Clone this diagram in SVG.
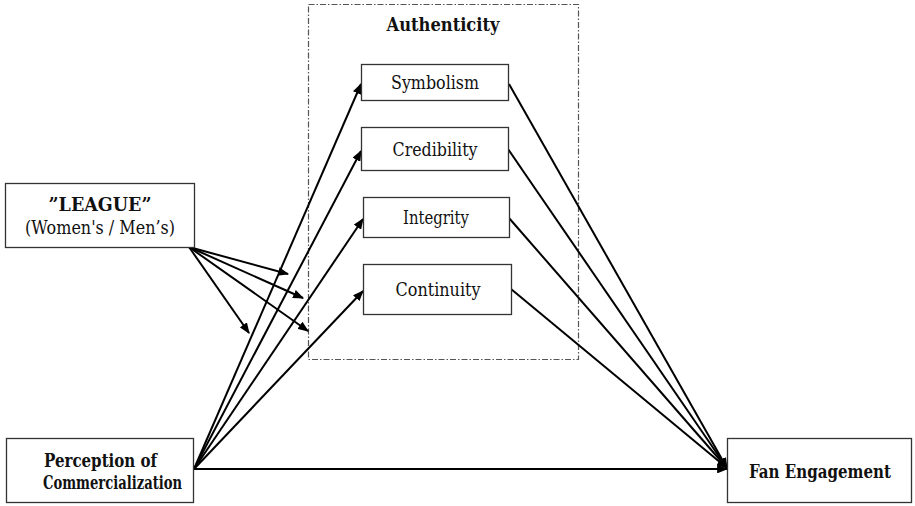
<svg xmlns="http://www.w3.org/2000/svg" width="915" height="506" viewBox="0 0 915 506">
  <style>
    .box { fill: #ffffff; stroke: #333333; stroke-width: 1.3; }
    .grp { fill: none; stroke: #555555; stroke-width: 1.2; stroke-dasharray: 6 2 1.5 2; }
    .edge { fill: none; stroke: #000000; stroke-width: 2; }
    text { font-family: "DejaVu Serif", serif; font-size: 18px; fill: #111111; text-anchor: middle; }
    .b { font-weight: bold; }
  </style>
  <defs>
    <marker id="arrow" viewBox="0 0 10 8" markerWidth="5.5" markerHeight="4.4" refX="9" refY="4" orient="auto">
      <path d="M0,0 L10,4 L0,8 Z" fill="#000000"/>
    </marker>
  </defs>

  <rect width="915" height="506" fill="#ffffff"/>

  <!-- Authenticity grouping -->
  <g id="authenticity">
    <rect class="grp" x="308.5" y="4.5" width="270" height="355"/>
    <text class="b" x="443" y="31" textLength="113" lengthAdjust="spacingAndGlyphs">Authenticity</text>
  </g>

  <!-- connectors -->
  <g id="connectors">
    <!-- league moderation arrows -->
    <line class="edge" x1="189" y1="247" x2="288" y2="274" marker-end="url(#arrow)"/>
    <line class="edge" x1="189" y1="247" x2="303" y2="298" marker-end="url(#arrow)"/>
    <line class="edge" x1="189" y1="247" x2="308" y2="331" marker-end="url(#arrow)"/>
    <line class="edge" x1="189" y1="247" x2="249" y2="333" marker-end="url(#arrow)"/>
    <!-- commercialization to authenticity dimensions -->
    <line class="edge" x1="194" y1="469" x2="361" y2="84" marker-end="url(#arrow)"/>
    <line class="edge" x1="194" y1="469" x2="361" y2="151" marker-end="url(#arrow)"/>
    <line class="edge" x1="194" y1="469" x2="363" y2="219" marker-end="url(#arrow)"/>
    <line class="edge" x1="194" y1="469" x2="363" y2="291" marker-end="url(#arrow)"/>
    <!-- direct effect -->
    <line class="edge" x1="194" y1="469" x2="727" y2="469" marker-end="url(#arrow)"/>
    <!-- authenticity dimensions to fan engagement -->
    <line class="edge" x1="509" y1="84" x2="727" y2="468" marker-end="url(#arrow)"/>
    <line class="edge" x1="508" y1="149" x2="727" y2="468" marker-end="url(#arrow)"/>
    <line class="edge" x1="509" y1="218" x2="727" y2="468" marker-end="url(#arrow)"/>
    <line class="edge" x1="511" y1="289" x2="727" y2="468" marker-end="url(#arrow)"/>
  </g>

  <g id="symbolism">
    <rect class="box" x="361.5" y="64.5" width="147" height="36"/>
    <text x="435" y="89" textLength="88" lengthAdjust="spacingAndGlyphs">Symbolism</text>
  </g>

  <g id="credibility">
    <rect class="box" x="361.5" y="127.5" width="147" height="43"/>
    <text x="435" y="156" textLength="85" lengthAdjust="spacingAndGlyphs">Credibility</text>
  </g>

  <g id="integrity">
    <rect class="box" x="363.5" y="197.5" width="146" height="40"/>
    <text x="436" y="224" textLength="66" lengthAdjust="spacingAndGlyphs">Integrity</text>
  </g>

  <g id="continuity">
    <rect class="box" x="363.5" y="264.5" width="148" height="50"/>
    <text x="438" y="296" textLength="85" lengthAdjust="spacingAndGlyphs">Continuity</text>
  </g>

  <g id="league">
    <rect class="box" x="5.5" y="183.5" width="189" height="64"/>
    <text class="b" x="100" y="211" textLength="103" lengthAdjust="spacingAndGlyphs">”LEAGUE”</text>
    <text x="100" y="234" textLength="150" lengthAdjust="spacingAndGlyphs">(Women's / Men’s)</text>
  </g>

  <g id="commercialization">
    <rect class="box" x="6.5" y="438.5" width="187" height="64"/>
    <text class="b" x="100.5" y="467" textLength="113" lengthAdjust="spacingAndGlyphs">Perception of</text>
    <text class="b" x="112.5" y="489" textLength="139" lengthAdjust="spacingAndGlyphs">Commercialization</text>
  </g>

  <g id="fan-engagement">
    <rect class="box" x="727.5" y="438.5" width="184" height="64"/>
    <text class="b" x="820" y="478" textLength="142" lengthAdjust="spacingAndGlyphs">Fan Engagement</text>
  </g>
</svg>
